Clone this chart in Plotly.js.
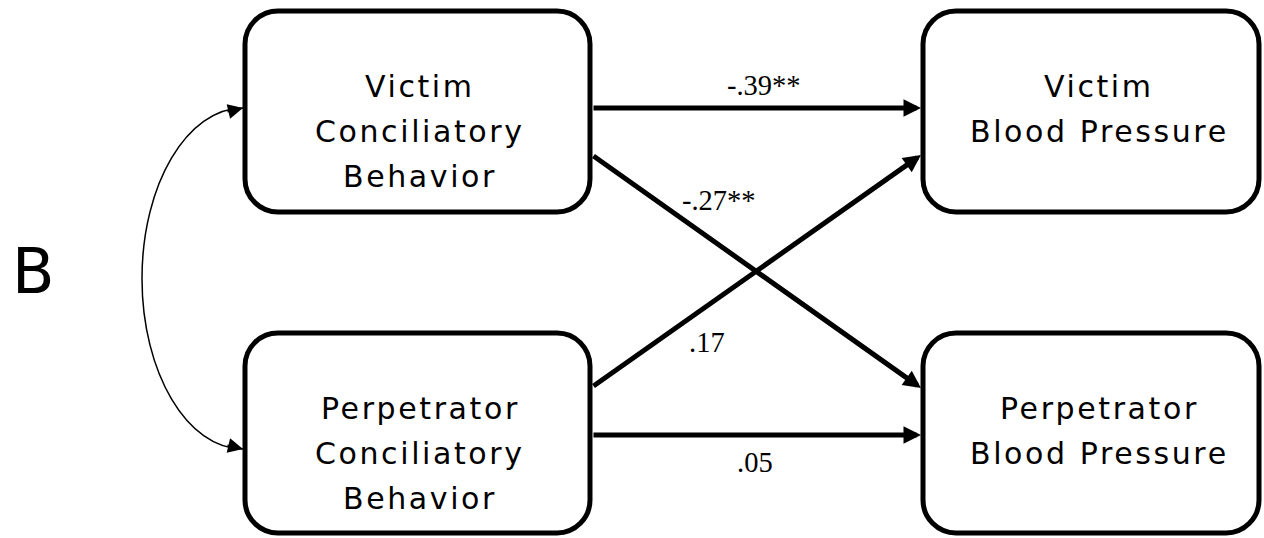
<!DOCTYPE html>
<html>
<head>
<meta charset="utf-8">
<script src="https://cdn.plot.ly/plotly-3.0.1.min.js"></script>
<style>
  html, body { margin: 0; padding: 0; background: #ffffff; }
  #chart { width: 1264px; height: 538px; }
</style>
</head>
<body>
<div id="chart"></div>
<script>
// ---------------- DATA ----------------
const panelLabel = "B";
const boxLabels = [
  ["Victim", "Conciliatory", "Behavior"],
  ["Perpetrator", "Conciliatory", "Behavior"],
  ["Victim", "Blood Pressure"],
  ["Perpetrator", "Blood Pressure"]
];
const pathFrom = [0, 0, 1, 1];
const pathTo = [2, 3, 2, 3];
const pathCoef = ["-.39**", "-.27**", ".17", ".05"];

// ---------------- GEOMETRY (pixels) ----------------
const W = 1264, H = 538;
const boxX0 = [245, 245, 923, 923];
const boxX1 = [590, 590, 1259, 1259];
const boxY0 = [11, 333, 11, 333];
const boxY1 = [212, 533, 212, 533];
const boxR = 33;
const textCx = [419, 419, 1098, 1098];
const firstBaselineOffset = 86, lineStep = 45;
// arrow ports (y) for each path: start y on source box, end y on target box
const portStartY = [108, 155, 387, 435];
const portEndY = [108, 388, 155, 435];
const portStartX = 592, portEndX = 921;
// coefficient label positions (centre x, baseline y)
const coefX = [764, 719, 707, 755];
const coefBase = [95, 210, 352, 472];

const boxFont = { family: "DejaVu Sans, Verdana, sans-serif", size: 30, color: "#000000" };
const coefFont = { family: "Liberation Serif, Times New Roman, serif", size: 28.5, color: "#000000" };
const letterSpacing = 2.6;

function roundedRect(x0, y0, x1, y1, r) {
  const k = 0.5523 * r;
  return `M${x0 + r},${y0} H${x1 - r} C${x1 - r + k},${y0} ${x1},${y0 + r - k} ${x1},${y0 + r}` +
         ` V${y1 - r} C${x1},${y1 - r + k} ${x1 - r + k},${y1} ${x1 - r},${y1}` +
         ` H${x0 + r} C${x0 + r - k},${y1} ${x0},${y1 - r + k} ${x0},${y1 - r}` +
         ` V${y0 + r} C${x0},${y0 + r - k} ${x0 + r - k},${y0} ${x0 + r},${y0} Z`;
}

const shapes = [];
const annotations = [];

// boxes
for (let i = 0; i < boxLabels.length; i++) {
  shapes.push({
    type: "path", xref: "x", yref: "y",
    path: roundedRect(boxX0[i], boxY0[i], boxX1[i], boxY1[i], boxR),
    line: { color: "#000000", width: 5 },
    fillcolor: "rgba(0,0,0,0)"
  });
  boxLabels[i].forEach((line, j) => {
    const base = boxY0[i] + firstBaselineOffset + j * lineStep;
    annotations.push({
      xref: "x", yref: "y", x: textCx[i] + letterSpacing / 2, y: base - 10.5,
      xanchor: "center", yanchor: "middle", showarrow: false,
      text: `<span style="letter-spacing:${letterSpacing}px">${line}</span>`,
      font: boxFont
    });
  });
}

// directed paths
for (let p = 0; p < pathCoef.length; p++) {
  annotations.push({
    xref: "x", yref: "y", axref: "x", ayref: "y",
    x: portEndX, y: portEndY[p], ax: portStartX, ay: portStartY[p],
    text: "", showarrow: true, arrowhead: 2, arrowsize: 0.7, arrowwidth: 5,
    arrowcolor: "#000000", standoff: 0, startstandoff: 0
  });
  annotations.push({
    xref: "x", yref: "y", x: coefX[p], y: coefBase[p] - 9.5,
    xanchor: "center", yanchor: "middle", showarrow: false,
    text: pathCoef[p], font: coefFont
  });
}

// curved double-headed covariance arrow (half ellipse to the left)
const cTopY = 108, cBotY = 449, cTipX = 243, cLeftX = 142;
const cMidY = (cTopY + cBotY) / 2, ry = (cBotY - cTopY) / 2, rx = cTipX - cLeftX, k = 0.5523;
shapes.push({
  type: "path", xref: "x", yref: "y",
  path: `M${cTipX},${cTopY} C${cTipX - k * rx},${cTopY} ${cLeftX},${cMidY - k * ry} ${cLeftX},${cMidY}` +
        ` C${cLeftX},${cMidY + k * ry} ${cTipX - k * rx},${cBotY} ${cTipX},${cBotY}`,
  line: { color: "#000000", width: 1.5 }
});
annotations.push({
  xref: "x", yref: "y", axref: "x", ayref: "y",
  x: cTipX, y: cTopY, ax: cTipX - 17, ay: cTopY + 4,
  text: "", showarrow: true, arrowhead: 2, arrowsize: 2, arrowwidth: 1.5,
  arrowcolor: "#000000", standoff: 0
});
annotations.push({
  xref: "x", yref: "y", axref: "x", ayref: "y",
  x: cTipX, y: cBotY, ax: cTipX - 17, ay: cBotY - 4,
  text: "", showarrow: true, arrowhead: 2, arrowsize: 2, arrowwidth: 1.5,
  arrowcolor: "#000000", standoff: 0
});

// panel label
annotations.push({
  xref: "x", yref: "y", x: 33, y: 271,
  xanchor: "center", yanchor: "middle", showarrow: false,
  text: panelLabel,
  font: { family: "DejaVu Sans, Verdana, sans-serif", size: 62, color: "#000000" }
});

const data = [{
  x: [0, W], y: [0, H], type: "scatter", mode: "markers",
  marker: { opacity: 0 }, hoverinfo: "skip", showlegend: false
}];

const layout = {
  width: W, height: H,
  margin: { l: 0, r: 0, t: 0, b: 0, pad: 0 },
  paper_bgcolor: "#ffffff", plot_bgcolor: "#ffffff",
  xaxis: { range: [0, W], visible: false, fixedrange: true },
  yaxis: { range: [H, 0], visible: false, fixedrange: true },
  showlegend: false,
  shapes: shapes,
  annotations: annotations
};

Plotly.newPlot("chart", data, layout, { staticPlot: true, displayModeBar: false });
</script>
</body>
</html>
